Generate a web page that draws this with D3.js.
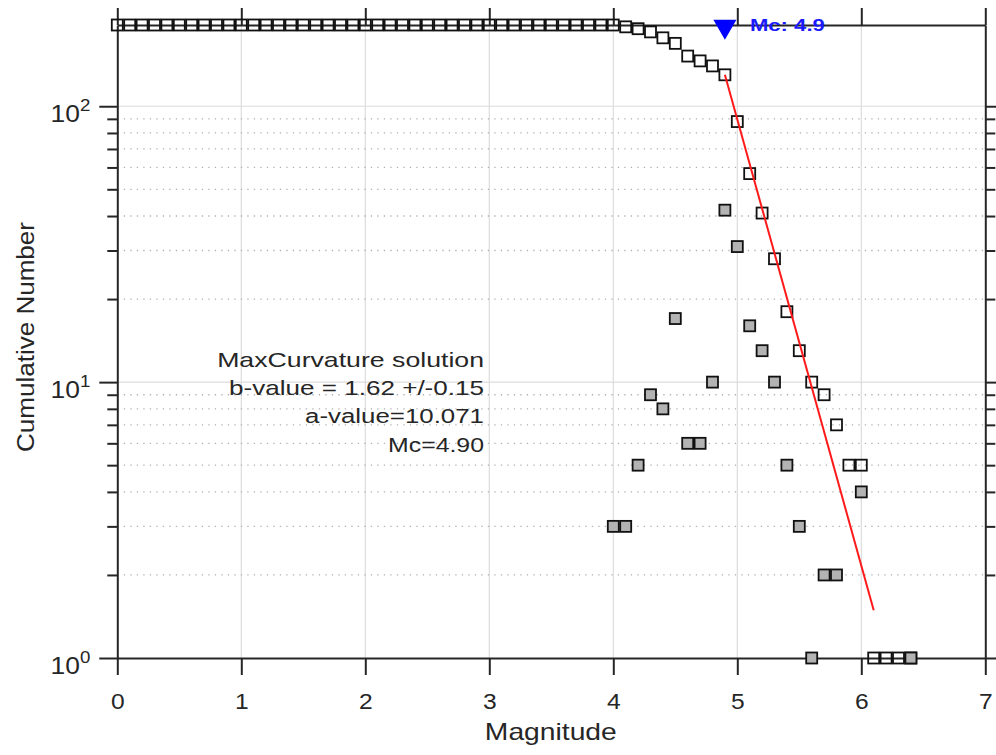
<!DOCTYPE html>
<html><head><meta charset="utf-8">
<script src="https://cdn.jsdelivr.net/npm/d3@7"></script>
<style>
body{margin:0;background:#fff;}
svg{display:block;}
text{font-family:"Liberation Sans",Arial,Helvetica,sans-serif;fill:#262626;}
</style>
</head><body>
<svg id="chart" width="996" height="755"></svg>
<script>
// ---------------- data ----------------
const magnitudes = [0.0,0.1,0.2,0.3,0.4,0.5,0.6,0.7,0.8,0.9,1.0,1.1,1.2,1.3,1.4,1.5,1.6,1.7,1.8,1.9,
  2.0,2.1,2.2,2.3,2.4,2.5,2.6,2.7,2.8,2.9,3.0,3.1,3.2,3.3,3.4,3.5,3.6,3.7,3.8,3.9,
  4.0,4.1,4.2,4.3,4.4,4.5,4.6,4.7,4.8,4.9,5.0,5.1,5.2,5.3,5.4,5.5,5.6,5.7,5.8,5.9,
  6.0,6.1,6.2,6.3,6.4];
const cumulativeCounts = [197,197,197,197,197,197,197,197,197,197,197,197,197,197,197,197,197,197,197,197,
  197,197,197,197,197,197,197,197,197,197,197,197,197,197,197,197,197,197,197,197,
  197,194,191,186,177,169,152,146,140,130,88,57,41,28,18,13,10,9,7,5,
  5,1,1,1,1];
const binMagnitudes = [4.0,4.1,4.2,4.3,4.4,4.5,4.6,4.7,4.8,4.9,5.0,5.1,5.2,5.3,5.4,5.5,5.6,5.7,5.8,6.0,6.4];
const binCounts     = [3,  3,  5,  9,  8,  17, 6,  6,  10, 42, 31, 16, 13, 10, 5,  3,  1,  2,  2,  4,  1];
const fitMagnitudes = [4.9, 6.1];
const fitCounts = [130, 1.49];
const xTicks = [0,1,2,3,4,5,6,7];
const yMajorTicks = [1,10,100];
const yMinorTicks = [2,3,4,5,6,7,8,9,20,30,40,50,60,70,80,90];
const annotationLines = ["MaxCurvature solution","b-value = 1.62 +/-0.15","a-value=10.071","Mc=4.90"];
const mcValue = 4.9;
const mcLabel = "Mc: 4.9";
const xLabel = "Magnitude";
const yLabel = "Cumulative Number";
const xDomain = [0,7];
const yDomain = [1,197];

// ---------------- layout ----------------
const L = 117.3, R = 985.3, T = 25, B = 658;
const svg = d3.select("#chart");
const x = d3.scaleLinear().domain(xDomain).range([L,R]);
const y = d3.scaleLog().domain(yDomain).range([B,T]);
const axisColor = "#262626";

function fit(sel, target){
  sel.each(function(){
    const w = this.getComputedTextLength();
    const base = this.getAttribute("data-base") || "";
    d3.select(this).attr("transform", base + " scale(" + (target/w) + ",1)");
  });
}

// ---------------- grid ----------------
const grid = svg.append("g");
grid.selectAll("line.vg").data(xTicks.filter(d=>d>xDomain[0]&&d<xDomain[1])).join("line")
  .attr("x1",d=>x(d)).attr("x2",d=>x(d)).attr("y1",T).attr("y2",B)
  .attr("stroke","#dcdcdc").attr("stroke-width",1.2);
grid.selectAll("line.hg").data(yMajorTicks.filter(d=>d>yDomain[0])).join("line")
  .attr("x1",L).attr("x2",R).attr("y1",d=>y(d)).attr("y2",d=>y(d))
  .attr("stroke","#dcdcdc").attr("stroke-width",1.2);
grid.selectAll("line.mg").data(yMinorTicks).join("line")
  .attr("x1",L).attr("x2",R).attr("y1",d=>y(d)).attr("y2",d=>y(d))
  .attr("stroke","#b0b0b0").attr("stroke-width",1.3).attr("stroke-dasharray","1.3,5.2");

// ---------------- axes ----------------
function styleAxis(g){
  g.selectAll("path.domain").attr("stroke",axisColor).attr("stroke-width",2);
  g.selectAll(".tick line").attr("stroke",axisColor).attr("stroke-width",2);
}
const xb = svg.append("g").attr("transform",`translate(0,${B})`)
  .call(d3.axisBottom(x).tickValues(xTicks).tickSize(17).tickSizeOuter(0).tickPadding(18.5).tickFormat(d3.format("d")));
styleAxis(xb);
xb.selectAll(".tick text").attr("font-size",22).attr("fill",axisColor)
  .attr("font-family",'"Liberation Sans",Arial,sans-serif')
  .attr("transform","scale(1.12,1)");

const xt = svg.append("g").attr("transform",`translate(0,${T})`)
  .call(d3.axisTop(x).tickValues(xTicks).tickSize(17).tickSizeOuter(0).tickFormat(""));
styleAxis(xt);

const yl = svg.append("g").attr("transform",`translate(${L},0)`)
  .call(d3.axisLeft(y).tickValues(yMajorTicks).tickSize(18).tickSizeOuter(0).tickFormat(""));
styleAxis(yl);
const ylm = svg.append("g").attr("transform",`translate(${L},0)`)
  .call(d3.axisLeft(y).tickValues(yMinorTicks).tickSize(10).tickSizeOuter(0).tickFormat(""));
styleAxis(ylm); ylm.select("path.domain").remove();

const yr = svg.append("g").attr("transform",`translate(${R},0)`)
  .call(d3.axisRight(y).tickValues(yMajorTicks).tickSize(18).tickSizeOuter(0).tickFormat(""));
styleAxis(yr);
const yrm = svg.append("g").attr("transform",`translate(${R},0)`)
  .call(d3.axisRight(y).tickValues(yMinorTicks).tickSize(10).tickSizeOuter(0).tickFormat(""));
styleAxis(yrm); yrm.select("path.domain").remove();

// y tick labels 10^k
yl.selectAll(".tick").each(function(d){
  const t = d3.select(this).append("text")
    .attr("text-anchor","end").attr("font-size",24).attr("fill",axisColor)
    .attr("transform","translate(-27,15) scale(1.1,1)");
  t.append("tspan").text("10");
  t.append("tspan").attr("dy",-11).attr("font-size",17).text(String(Math.round(Math.log10(d))));
});

// axis labels
svg.append("text").attr("text-anchor","middle").attr("font-size",23).attr("fill",axisColor)
  .attr("data-base",`translate(${(L+R)/2 - 0.5},740)`).text(xLabel).call(fit,132);
svg.append("text").attr("text-anchor","middle").attr("font-size",23).attr("fill",axisColor)
  .attr("data-base","translate(34,337) rotate(-90)").text(yLabel).call(fit,230);

// ---------------- marks ----------------
const sq = 11;
const cum = magnitudes.map((m,i)=>({m, n:cumulativeCounts[i]}));
svg.append("g").selectAll("rect").data(cum).join("rect")
  .attr("x",d=>x(d.m)-sq/2).attr("y",d=>y(d.n)-sq/2).attr("width",sq).attr("height",sq)
  .attr("fill","none").attr("stroke","#111").attr("stroke-width",1.8);

const bins = binMagnitudes.map((m,i)=>({m, n:binCounts[i]}));
svg.append("g").selectAll("rect").data(bins).join("rect")
  .attr("x",d=>x(d.m)-sq/2).attr("y",d=>y(d.n)-sq/2).attr("width",sq).attr("height",sq)
  .attr("fill","#b3b3b3").attr("stroke","#111").attr("stroke-width",1.8);

const fitData = fitMagnitudes.map((m,i)=>({m, n:fitCounts[i]}));
svg.append("path").datum(fitData)
  .attr("d", d3.line().x(d=>x(d.m)).y(d=>y(d.n)))
  .attr("fill","none").attr("stroke","#ff1a1a").attr("stroke-width",2);

// Mc marker
svg.append("path")
  .attr("d", d3.symbol(d3.symbolTriangle, 230)())
  .attr("transform",`translate(${x(mcValue)},${T+1.5}) rotate(180)`)
  .attr("fill","#0000ff");
svg.append("text").attr("font-size",16).attr("font-weight","bold").attr("fill","#1a1aff")
  .style("fill","#1a1aff")
  .attr("data-base",`translate(${x(mcValue)+25},31)`).text(mcLabel).call(fit,75);

// annotation
const annW = [267,255,179,96];
const annY = [367,395,423,452];
annotationLines.forEach((s,i)=>{
  svg.append("text").attr("text-anchor","end").attr("font-size",21).attr("fill","#262626")
    .attr("data-base",`translate(484,${annY[i]})`).text(s).call(fit,annW[i]);
});
</script>
</body></html>
